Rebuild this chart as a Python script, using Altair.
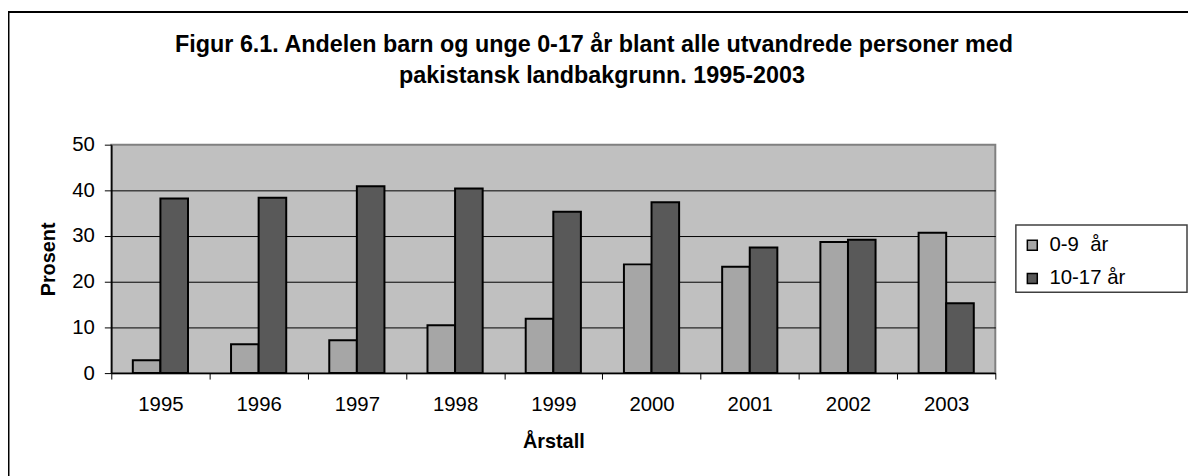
import altair as alt
import pandas as pd

years = ["1995", "1996", "1997", "1998", "1999", "2000", "2001", "2002", "2003"]
series = ["0-9\u00a0 år", "10-17 år"]
young = [2.8, 6.3, 7.2, 10.5, 11.9, 23.8, 23.3, 28.7, 30.7]
old = [38.2, 38.4, 40.9, 40.4, 35.3, 37.4, 27.5, 29.2, 15.3]
y_ticks = [0, 10, 20, 30, 40, 50]
title_lines = [
    "Figur 6.1. Andelen barn og unge 0-17 år blant alle utvandrede personer med",
    "pakistansk landbakgrunn. 1995-2003",
]
colors = ["#A6A6A6", "#595959"]

rows = []
for i, yr in enumerate(years):
    rows.append({"year": yr, "group": series[0], "value": young[i]})
    rows.append({"year": yr, "group": series[1], "value": old[i]})
df = pd.DataFrame(rows)

FONT = "Liberation Sans"
one = alt.Data(values=[{"k": 1}])

border = alt.Chart(one).mark_rect(fill=None, stroke="black", strokeWidth=2).encode(
    x=alt.value(-103.5), x2=alt.value(1100), y=alt.value(-133.5), y2=alt.value(400)
)

legend_box = alt.Chart(one).mark_rect(fill="white", stroke="#404040", strokeWidth=1.5).encode(
    x=alt.value(910.7), x2=alt.value(1083), y=alt.value(81), y2=alt.value(148.7)
)

bars = alt.Chart(df).mark_bar(stroke="black", strokeWidth=2).encode(
    x=alt.X(
        "year:N",
        sort=years,
        title="Årstall",
        scale=alt.Scale(paddingInner=0, paddingOuter=0),
        axis=alt.Axis(
            tickBand="extent",
            labelAngle=0,
            grid=False,
            domainColor="black",
            domainWidth=1.5,
            tickColor="black",
            tickSize=6,
            labelPadding=16,
            labelFont=FONT,
            labelFontSize=20.5,
            labelColor="black",
            titleFont=FONT,
            titleFontSize=20,
            titleFontWeight="bold",
            titleColor="black",
            titlePadding=16,
        ),
    ),
    xOffset=alt.XOffset(
        "group:N", sort=series, scale=alt.Scale(paddingInner=0, paddingOuter=0.78)
    ),
    y=alt.Y(
        "value:Q",
        title="Prosent",
        scale=alt.Scale(domain=[0, 50], nice=False),
        axis=alt.Axis(
            values=y_ticks,
            grid=True,
            gridColor="black",
            gridWidth=1,
            gridOpacity={"condition": {"test": "datum.value === 50", "value": 0}, "value": 1},
            domainColor="black",
            domainWidth=1.5,
            tickColor="black",
            tickSize=7,
            labelPadding=10,
            labelFont=FONT,
            labelFontSize=20.5,
            labelColor="black",
            titleFont=FONT,
            titleFontSize=20,
            titleFontWeight="bold",
            titleColor="black",
            titlePadding=13,
        ),
    ),
    color=alt.Color(
        "group:N",
        sort=series,
        scale=alt.Scale(domain=series, range=colors),
        legend=alt.Legend(
            title=None,
            orient="none",
            legendX=917,
            legendY=91,
            symbolType="square",
            symbolSize=100,
            symbolStrokeColor="black",
            symbolStrokeWidth=1.5,
            labelFont=FONT,
            labelFontSize=20.5,
            labelColor="black",
            rowPadding=12.5,
            padding=0,
            labelOffset=7,
        ),
    ),
)

title1 = alt.Chart(one).mark_text(
    text=title_lines[0], font=FONT, fontSize=23.5, fontWeight="bold",
    align="center", baseline="alphabetic", color="black"
).encode(x=alt.value(486), y=alt.value(-93))

title2 = alt.Chart(one).mark_text(
    text=title_lines[1], font=FONT, fontSize=23.5, fontWeight="bold",
    align="center", baseline="alphabetic", color="black"
).encode(x=alt.value(494), y=alt.value(-62))

chart = alt.layer(border, legend_box, bars, title1, title2).properties(
    width=890,
    height=230,
    padding={"left": 104, "top": 136, "right": 194, "bottom": 102},
    autosize=alt.AutoSizeParams(type="none"),
).configure_view(fill="#C0C0C0", stroke="#808080", strokeWidth=2)

chart.save("out.html", embed_options={"renderer": "svg", "actions": False})
